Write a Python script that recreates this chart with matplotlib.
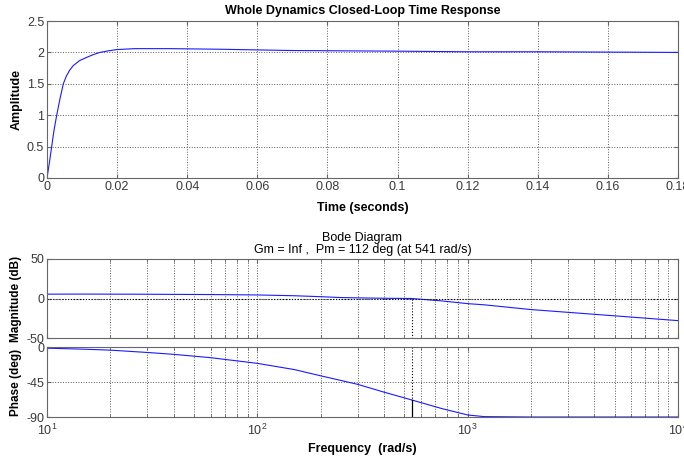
import matplotlib.pyplot as plt
import numpy as np
from matplotlib.ticker import LogLocator, NullFormatter

plt.rcParams['font.family'] = ['Liberation Sans', 'DejaVu Sans']

#---------------------------------------------------------------step response
t_step = [0, 0.0007, 0.00134, 0.002, 0.00277, 0.0037, 0.00466, 0.0055, 0.0065,
          0.0075, 0.0093, 0.0113, 0.0132, 0.0151, 0.0175, 0.0199, 0.025, 0.035,
          0.05, 0.06, 0.07, 0.085, 0.1, 0.12, 0.14, 0.16, 0.18]
y_step = [0, 0.25, 0.5, 0.76, 1.0, 1.26, 1.5, 1.62, 1.72, 1.79, 1.87, 1.92,
          1.965, 2.0, 2.025, 2.045, 2.06, 2.06, 2.05, 2.04, 2.03, 2.025, 2.02,
          2.01, 2.01, 2.005, 2.0]

#------------------------------------------------------------------bode data
w = [10, 15, 20, 30, 40, 60, 100, 150, 200, 250, 300, 400, 541, 750, 1000,
     1200, 2000, 4000, 10000]
mag_db = [5.5, 5.6, 5.5, 5.4, 5.2, 5.0, 4.5, 3.5, 2.3, 1.2, 0.8, 0.3, 0.0,
          -3.0, -6.5, -8.0, -14.0, -20.0, -28.0]
phase_deg = [-1.5, -2.8, -4.0, -7.0, -9.4, -13.7, -21.0, -29.0, -37.0, -43.0,
             -48.0, -58.0, -68.0, -79.0, -87.4, -89.5, -90.0, -90.0, -90.0]

w_pm = 541        #---phase margin crossover (rad/s)
pm_phase = -68.0

tick_clr = '#3a3a3a'
spine_clr = '#666666'
line_clr = (0.1, 0.1, 1.0)


def style(ax):
    for s in ax.spines.values():
        s.set_color(spine_clr)
        s.set_linewidth(0.8)
    ax.tick_params(direction='in', top=True, right=True, length=3, pad=2,
                   labelsize=9, labelcolor=tick_clr, color=spine_clr)
    ax.tick_params(which='minor', direction='in', top=True, right=True,
                   length=2, color=spine_clr)


fig = plt.figure(figsize=(6.84, 4.58), dpi=100)

#=====================================================================top axes
ax1 = fig.add_axes([0.0687, 0.6114, 0.9225, 0.3427])
ax1.plot(t_step, y_step, color=line_clr, linewidth=0.8)
ax1.set_xlim(0, 0.18)
ax1.set_ylim(0, 2.5)
ax1.set_xticks(np.arange(0, 0.181, 0.02))
ax1.set_xticklabels(['0', '0.02', '0.04', '0.06', '0.08', '0.1', '0.12',
                     '0.14', '0.16', '0.18'])
ax1.set_yticks([0, 0.5, 1, 1.5, 2, 2.5])
ax1.set_yticklabels(['0', '0.5', '1', '1.5', '2', '2.5'])
ax1.grid(True, linestyle=':', color='0.35', linewidth=0.7)
style(ax1)
ax1.set_title('Whole Dynamics Closed-Loop Time Response', fontsize=9,
              fontweight='bold', pad=5)
ax1.set_xlabel('Time (seconds)', fontsize=9, fontweight='bold', labelpad=7)
ax1.set_ylabel('Amplitude', fontsize=9, fontweight='bold', labelpad=3)

#===============================================================magnitude axes
ax2 = fig.add_axes([0.0687, 0.262, 0.9225, 0.1725])
ax2.semilogx(w, mag_db, color=line_clr, linewidth=0.8)
ax2.set_xlim(10, 10000)
ax2.set_ylim(-50, 50)
ax2.set_yticks([-50, 0, 50])
ax2.set_yticklabels(['-50', '0', '50'])
ax2.axhline(0, color='k', linestyle=':', linewidth=0.8)
ax2.plot([w_pm, w_pm], [0, -50], color='k', linestyle=':', linewidth=0.8)
ax2.set_ylabel('Magnitude (dB)', fontsize=8.5, fontweight='bold', labelpad=3)
ax2.set_title('Bode Diagram\nGm = Inf ,  Pm = 112 deg (at 541 rad/s)',
              fontsize=9, pad=4, linespacing=1.0)

#===================================================================phase axes
ax3 = fig.add_axes([0.0687, 0.0895, 0.9225, 0.1528])
ax3.semilogx(w, phase_deg, color=line_clr, linewidth=0.8)
ax3.set_xlim(10, 10000)
ax3.set_ylim(-90, 0)
ax3.set_yticks([-90, -45, 0])
ax3.set_yticklabels(['-90', '-45', '0'])
ax3.plot([w_pm, w_pm], [0, pm_phase], color='k', linestyle=':', linewidth=0.8)
ax3.plot([w_pm, w_pm], [pm_phase, -90], color='k', linewidth=0.9)
ax3.set_ylabel('Phase (deg)', fontsize=8.5, fontweight='bold', labelpad=3)
ax3.set_xlabel('Frequency  (rad/s)', fontsize=9, fontweight='bold',
               labelpad=4)

for ax in (ax2, ax3):
    ax.xaxis.set_major_locator(LogLocator(base=10, numticks=10))
    ax.xaxis.set_minor_locator(LogLocator(base=10, subs=np.arange(2, 10),
                                          numticks=20))
    ax.xaxis.set_minor_formatter(NullFormatter())
    ax.grid(True, which='major', linestyle=':', color='0.35', linewidth=0.7)
    ax.grid(True, which='minor', axis='x', linestyle=':', color='0.35',
            linewidth=0.7)
    style(ax)
ax2.set_xticklabels([])
ax3.tick_params(axis='x', pad=4)

fig.savefig('out.png', dpi=100)
